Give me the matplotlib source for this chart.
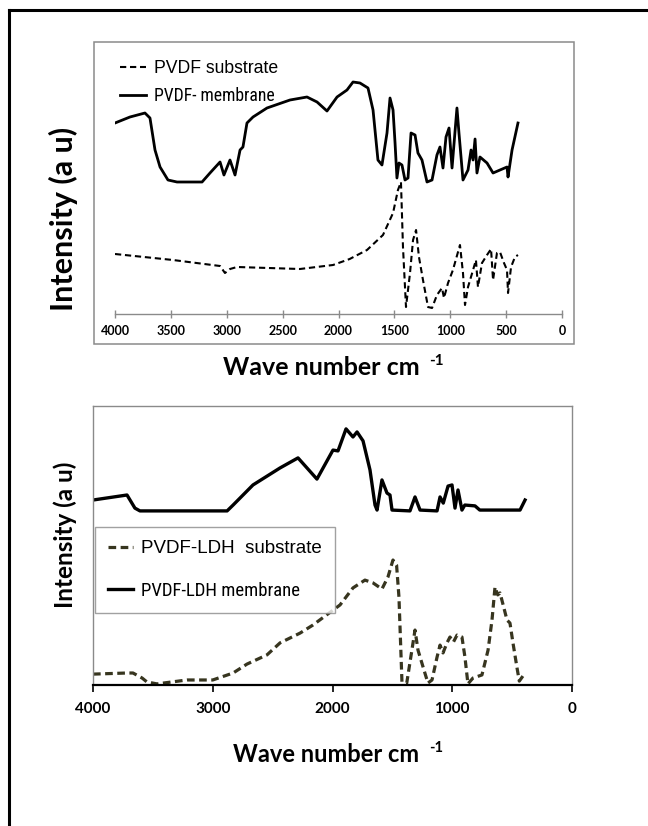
import matplotlib
matplotlib.use("Agg")
import matplotlib.pyplot as plt
import matplotlib.font_manager as fm
from matplotlib.lines import Line2D
from matplotlib.patches import Rectangle

# ---------------- data ----------------
# Top panel: PVDF
top_mem_wn = [4000, 3866, 3732, 3687, 3642, 3597, 3526, 3445, 3221, 3150,
              3060, 3025, 2971, 2926, 2881, 2855, 2819, 2765, 2640, 2434,
              2282, 2192, 2103, 2013, 1924, 1870, 1808, 1736, 1691, 1647,
              1611, 1566, 1539, 1512, 1494, 1477, 1459, 1432, 1405, 1378,
              1351, 1315, 1289, 1253, 1208, 1163, 1119, 1092, 1065, 1038,
              1011, 984, 940, 922, 886, 841, 814, 796, 778, 761,
              734, 671, 617, 555, 492, 483, 447, 394]
top_mem_int = [191, 197, 201, 196, 164, 147, 134, 132, 132, 141,
               152, 139, 154, 139, 164, 167, 191, 197, 206, 214,
               217, 212, 203, 217, 224, 232, 231, 226, 204, 154,
               149, 181, 216, 204, 171, 136, 151, 149, 134, 136,
               181, 179, 161, 154, 132, 134, 159, 167, 146, 177,
               186, 146, 206, 181, 134, 144, 164, 154, 175, 141,
               157, 151, 141, 144, 147, 137, 164, 191]

top_sub_wn = [4000, 3481, 3060, 3016, 2971, 2908, 2345, 2049, 1900, 1745,
              1602, 1512, 1468, 1441, 1423, 1396, 1360, 1333, 1306, 1280,
              1244, 1199, 1163, 1119, 1074, 1056, 1020, 976, 913, 886,
              868, 841, 796, 770, 752, 716, 671, 635, 617, 582,
              555, 519, 492, 483, 456, 421, 394]
top_sub_int = [60, 54, 48, 41, 45, 47, 45, 49, 55, 64,
               79, 101, 124, 132, 67, 7, 41, 74, 84, 57,
               34, 7, 6, 19, 26, 16, 31, 44, 69, 41,
               9, 27, 44, 54, 27, 51, 59, 65, 34, 61,
               62, 51, 44, 21, 47, 57, 59]

# Bottom panel: PVDF-LDH
bot_mem_wn = [4000, 3716, 3650, 3608, 2880, 2830, 2664, 2438, 2288, 2130,
              1996, 1954, 1887, 1829, 1795, 1745, 1687, 1645, 1628, 1587,
              1545, 1520, 1503, 1353, 1311, 1269, 1127, 1102, 1075, 1035,
              1002, 977, 952, 919, 895, 810, 770, 434, 392]
bot_mem_int = [66.3, 68.1, 63.4, 62.4, 62.4, 64.5, 71.7, 77.8, 81.4, 73.8,
               84.2, 83.9, 91.8, 88.9, 90.7, 87.5, 77.1, 64.5, 62.7, 73.5,
               68.8, 68.1, 62.7, 62.4, 67.4, 62.7, 62.4, 67.4, 65.2, 71.3,
               71.7, 63.4, 69.9, 62.7, 64.5, 64.2, 62.7, 62.7, 66.3]

bot_sub_wn = [4000, 3716, 3666, 3590, 3550, 3466, 3215, 3000, 2830, 2714,
              2547, 2438, 2271, 2163, 1937, 1829, 1729, 1662, 1587, 1537,
              1495, 1465, 1445, 1420, 1380, 1337, 1311, 1286, 1244, 1203,
              1169, 1127, 1102, 1077, 1044, 1019, 990, 960, 919, 894,
              869, 827, 752, 701, 668, 643, 620, 601, 575, 543,
              518, 493, 459, 440, 392]
bot_sub_int = [3.9, 4.3, 4.3, 2.5, 1.1, 0.4, 1.8, 1.8, 4.3, 7.5,
               10.8, 15.1, 18.6, 21.5, 28.7, 34.8, 37.6, 36.6, 34.4, 38.7,
               44.8, 43.0, 31.5, 1.1, 0.7, 12.5, 19.7, 12.5, 6.5, 0.7,
               1.8, 10.0, 14.3, 11.5, 15.1, 17.2, 15.4, 17.9, 17.2, 10.0,
               0.4, 2.5, 3.6, 12.5, 23.3, 35.1, 32.3, 33.0, 28.7, 23.3,
               22.2, 15.1, 6.1, 1.4, 4.3]

top_ticks = [4000, 3500, 3000, 2500, 2000, 1500, 1000, 500, 0]
bot_ticks = [4000, 3000, 2000, 1000, 0]

top_labels = ["PVDF substrate", "PVDF- membrane"]
bot_labels = ["PVDF-LDH  substrate", "PVDF-LDH membrane"]
ylabel_text = "Intensity (a u)"
xlabel_main = "Wave number cm"
xlabel_sup = "-1"

# ---------------- fonts ----------------
TITLE_FONT = ["Lato", "DejaVu Sans"]
LEG_FONT = ["Liberation Sans", "DejaVu Sans"]


def pick_narrow():
    names = {}
    for f in fm.fontManager.ttflist:
        names.setdefault((f.name, f.stretch, f.weight, f.style), f.fname)
    for nm in ("Liberation Sans Narrow", "Arial Narrow", "Roboto Condensed",
               "Open Sans Condensed", "Nimbus Sans Narrow"):
        for (n, st, w, sty), path in names.items():
            if n == nm and sty == "normal" and w in (400, "normal", "regular"):
                return fm.FontProperties(fname=path)
    for (n, st, w, sty), path in names.items():
        if st in ("condensed", "semi-condensed") and sty == "normal" and \
                w in (400, "normal", "regular") and "Mono" not in n \
                and "Serif" not in n:
            return fm.FontProperties(fname=path)
    return fm.FontProperties(family=["Roboto", "Liberation Sans"])


NARROW = pick_narrow()

# ---------------- figure ----------------
W, H = 648, 826
fig = plt.figure(figsize=(W / 100, H / 100), dpi=100)
fig.patch.set_facecolor("white")


def fx(px):
    return px / W


def fy(py):
    return 1 - py / H


GREY = "#8a8a8a"
OLIVE = "#37351f"

# outer frame (top and left edges visible)
fig.add_artist(Line2D([fx(9), 1.0], [fy(10), fy(10)], color="black", lw=2.2,
                      transform=fig.transFigure))
fig.add_artist(Line2D([fx(9), fx(9)], [fy(10), 0.0], color="black", lw=2.2,
                      transform=fig.transFigure))

# ---------- top panel ----------
fig.add_artist(Rectangle((fx(94), fy(344)), fx(574) - fx(94), fy(42) - fy(344),
                         transform=fig.transFigure, fill=False,
                         edgecolor=GREY, lw=1.1))
ax1 = fig.add_axes([fx(115), fy(314), fx(562) - fx(115), fy(50) - fy(314)])
ax1.plot(top_sub_wn, top_sub_int, color="black", lw=1.5, ls=(0, (3.0, 1.8)),
         label=top_labels[0])
ax1.plot(top_mem_wn, top_mem_int, color="black", lw=2.0, label=top_labels[1],
         solid_joinstyle="round")
ax1.set_xlim(4000, 0)
ax1.set_ylim(0, 264)
for s in ("left", "right", "top"):
    ax1.spines[s].set_visible(False)
ax1.spines["bottom"].set_color(GREY)
ax1.spines["bottom"].set_linewidth(1.0)
ax1.set_yticks([])
ax1.set_xticks(top_ticks)
ax1.set_xticklabels([str(t) for t in top_ticks])
ax1.tick_params(axis="x", direction="inout", length=6, width=1.0, color=GREY,
                pad=5)
for t in ax1.get_xticklabels():
    t.set_fontfamily(TITLE_FONT)
    t.set_fontweight("bold")
    t.set_fontsize(9)
ax1.set_facecolor("none")
leg1 = ax1.legend(loc="upper left", bbox_to_anchor=(fx(120), fy(60)),
                  bbox_transform=fig.transFigure, frameon=False,
                  prop={"family": LEG_FONT, "size": 12.7},
                  borderpad=0, borderaxespad=0, handlelength=1.5,
                  handletextpad=0.45, labelspacing=0.55)
leg1.get_texts()[1].set_fontproperties(NARROW)
leg1.get_texts()[1].set_fontsize(12.7)

fig.text(fx(63), fy(219), ylabel_text, rotation=90, ha="center", va="center",
         fontsize=22, fontweight="bold", family=TITLE_FONT)
fig.text(fx(223), fy(375), xlabel_main, ha="left", va="baseline",
         fontsize=18, fontweight="bold", family=TITLE_FONT)
fig.text(fx(429), fy(365), xlabel_sup, ha="left", va="baseline",
         fontsize=11, fontweight="bold", family=TITLE_FONT)

# ---------- bottom panel ----------
ax2 = fig.add_axes([fx(93), fy(685), fx(572) - fx(93), fy(406) - fy(685)])
ax2.plot(bot_sub_wn, bot_sub_int, color=OLIVE, lw=2.3, ls=(0, (2.4, 1.4)),
         label=bot_labels[0])
ax2.plot(bot_mem_wn, bot_mem_int, color="black", lw=2.4, label=bot_labels[1],
         solid_joinstyle="round")
ax2.set_xlim(4000, 0)
ax2.set_ylim(0, 100)
for s in ("left", "right", "top"):
    ax2.spines[s].set_color(GREY)
    ax2.spines[s].set_linewidth(1.0)
ax2.spines["bottom"].set_color("black")
ax2.spines["bottom"].set_linewidth(1.6)
ax2.set_yticks([])
ax2.set_xticks(bot_ticks)
ax2.set_xticklabels([str(t) for t in bot_ticks])
ax2.tick_params(axis="x", direction="out", length=5, width=1.2, color="black",
                pad=7)
for t in ax2.get_xticklabels():
    t.set_fontfamily(TITLE_FONT)
    t.set_fontweight("bold")
    t.set_fontsize(11)
leg2 = ax2.legend(loc="upper left", bbox_to_anchor=(fx(95), fy(527)),
                  bbox_transform=fig.transFigure, frameon=True, fancybox=False,
                  prop={"family": LEG_FONT, "size": 13.5},
                  borderpad=0.7, borderaxespad=0, handlelength=1.35,
                  handletextpad=0.4, labelspacing=1.3)
leg2.get_frame().set_edgecolor(GREY)
leg2.get_frame().set_linewidth(1.0)
leg2.get_texts()[1].set_fontproperties(NARROW)
leg2.get_texts()[1].set_fontsize(13.5)

fig.text(fx(65), fy(535), ylabel_text, rotation=90, ha="center", va="center",
         fontsize=17.5, fontweight="bold", family=TITLE_FONT)
fig.text(fx(233), fy(762), xlabel_main, ha="left", va="baseline",
         fontsize=17, fontweight="bold", family=TITLE_FONT)
fig.text(fx(429), fy(752), xlabel_sup, ha="left", va="baseline",
         fontsize=10.5, fontweight="bold", family=TITLE_FONT)

fig.savefig("out.png", dpi=100, facecolor="white")
